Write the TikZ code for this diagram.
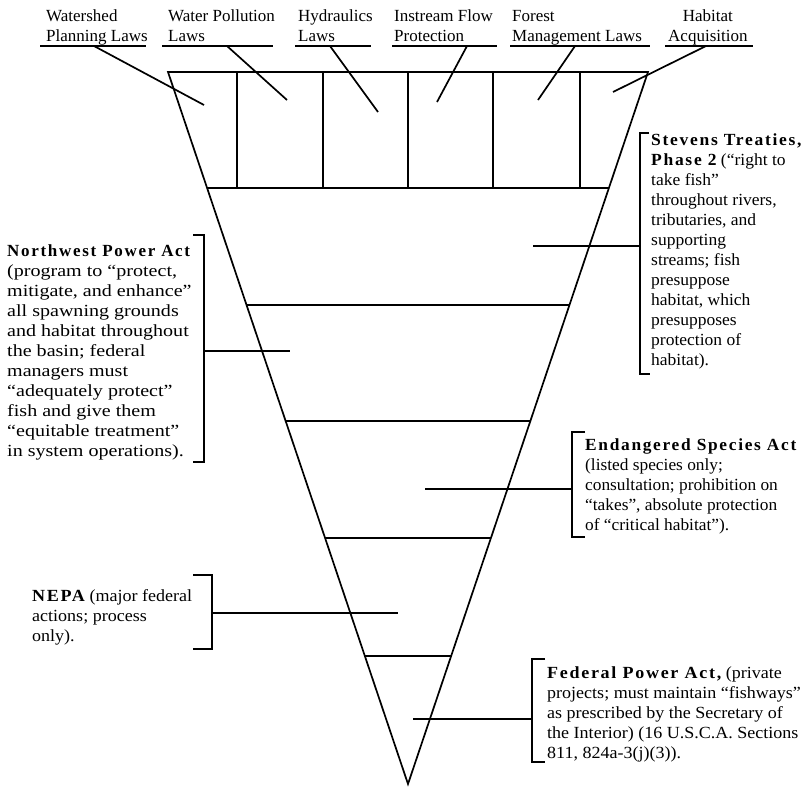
\documentclass[tikz,border=0pt]{standalone}
\usepackage{fontspec}
\setmainfont{Liberation Serif}
\usetikzlibrary{calc}
\newcommand\hd[1]{{\bfseries\addfontfeature{LetterSpace=10}#1}}
\newcommand\tb[1]{\begin{tabular}[t]{@{}l@{}}#1\end{tabular}}
\newcommand\tc[1]{\begin{tabular}[t]{@{}c@{}}#1\end{tabular}}
\tikzset{
  ln/.style={line width=1.7pt},
  lbl/.style={inner sep=0pt, anchor=base west, font=\fontsize{17}{20}\selectfont},
  wide/.style={lbl, font=\fontsize{17}{20}\selectfont\addfontfeature{FakeStretch=#1}},
}
\begin{document}
\begin{tikzpicture}[x=1pt,y=-1pt]
\useasboundingbox (0,0) rectangle (808,788);
% triangle
\coordinate (T1) at (168,72);
\coordinate (T2) at (648,72);
\coordinate (A) at (408,784);
\draw[ln, line join=miter] (T1) -- (T2) -- (A) -- cycle;
% horizontal bands
\foreach \y in {188,305,421,538,656}{
  \draw[ln] ($(T1)!{(\y-72)/712}!(A)$) -- ($(T2)!{(\y-72)/712}!(A)$);
}
% dividers in top band
\foreach \x in {237,323,408,493,580}{
  \draw[ln] (\x,72) -- (\x,188);
}
% top labels
\node[lbl] (ws) at (46,21) {\tb{Watershed\\Planning Laws}};
\node[lbl] (wp) at (168,21) {\tb{Water Pollution\\Laws}};
\node[lbl] (hy) at (298,21) {\tb{Hydraulics\\Laws}};
\node[lbl] (ifp) at (394,21) {\tb{Instream Flow\\Protection}};
\node[lbl] (fm) at (512,21) {\tb{Forest\\Management Laws}};
\node[lbl] (ha) at (668,21) {\tc{Habitat\\Acquisition}};
% underlines
\draw[ln] (40,46) -- (146,46);
\draw[ln] (162,46) -- (273,46);
\draw[ln] (295,46) -- (371,46);
\draw[ln] (392,46) -- (497,46);
\draw[ln] (510,46) -- (650,46);
\draw[ln] (665,46) -- (753,46);
% leaders
\coordinate (ws1) at (94,46);  \coordinate (ws2) at (204,105);
\coordinate (wp1) at (227,46); \coordinate (wp2) at (287,100);
\coordinate (hy1) at (330,46); \coordinate (hy2) at (378,112);
\coordinate (if1) at (467,46); \coordinate (if2) at (437,102);
\coordinate (fm1) at (575,46); \coordinate (fm2) at (538,100);
\coordinate (ha1) at (706,46); \coordinate (ha2) at (613,92);
\draw[ln] (ws1) -- (ws2);
\draw[ln] (wp1) -- (wp2);
\draw[ln] (hy1) -- (hy2);
\draw[ln] (if1) -- (if2);
\draw[ln] (fm1) -- (fm2);
\draw[ln] (ha1) -- (ha2);
% Stevens Treaties
\node[wide=1.03] (st) at (651,145) {\tb{\hd{Stevens Treaties,}\\\hd{Phase 2} (``right to\\take fish''\\throughout rivers,\\tributaries, and\\supporting\\streams; fish\\presuppose\\habitat, which\\presupposes\\protection of\\habitat).}};
\draw[ln] (649,133) -- (640,133) -- (640,374) -- (650,374);
\coordinate (stL) at (533,246); \coordinate (stB) at (640,246);
\draw[ln] (stL) -- (stB);
% Northwest Power Act
\node[lbl] (nwh) at (7,256) {\hd{Northwest Power Act}};
\node[wide=1.18] (nw) at (7,276) {\tb{(program to ``protect,\\mitigate, and enhance''\\all spawning grounds\\and habitat throughout\\the basin; federal\\managers must\\``adequately protect''\\fish and give them\\``equitable treatment''\\in system operations).}};
\draw[ln] (193,235) -- (204,235) -- (204,462) -- (193,462);
\coordinate (nwB) at (204,351); \coordinate (nwR) at (290,351);
\draw[ln] (nwB) -- (nwR);
% Endangered Species Act
\node[wide=1.02] (esa) at (585,450) {\tb{\hd{Endangered Species Act}\\(listed species only;\\consultation; prohibition on\\``takes'', absolute protection\\of ``critical habitat'').}};
\draw[ln] (585,432) -- (572,432) -- (572,537) -- (585,537);
\coordinate (esL) at (425,489); \coordinate (esB) at (572,489);
\draw[ln] (esL) -- (esB);
% NEPA
\node[wide=1.06] (nepa) at (32,601) {\tb{\hd{NEPA} (major federal\\actions; process\\only).}};
\draw[ln] (193,575) -- (212,575) -- (212,649) -- (193,649);
\coordinate (neB) at (212,613); \coordinate (neR) at (398,613);
\draw[ln] (neB) -- (neR);
% Federal Power Act
\node[wide=1.06] (fpa) at (547,678) {\tb{\hd{Federal Power Act,} (private\\projects; must maintain ``fishways''\\as prescribed by the Secretary of\\the Interior) (16 U.S.C.A. Sections\\811, 824a-3(j)(3)).}};
\draw[ln] (545,659) -- (532,659) -- (532,762) -- (545,762);
\coordinate (fpL) at (413,719); \coordinate (fpB) at (532,719);
\draw[ln] (fpL) -- (fpB);
\end{tikzpicture}
\end{document}
